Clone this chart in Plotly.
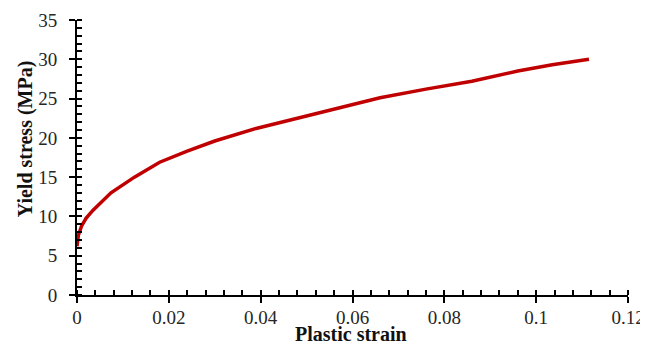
import plotly.graph_objects as go

plastic_strain = [0, 0.0003, 0.001, 0.002, 0.0035, 0.0074, 0.0125, 0.018, 0.024,
                  0.030, 0.039, 0.048, 0.057, 0.066, 0.076, 0.086, 0.096, 0.1035, 0.1115]
yield_stress = [6.2, 7.6, 8.8, 9.8, 10.8, 13.0, 15.0, 16.9, 18.3,
                19.6, 21.2, 22.5, 23.8, 25.1, 26.2, 27.2, 28.5, 29.3, 30.0]

x_title = "Plastic strain"
y_title = "Yield stress (MPa)"
x_range = [0, 0.12]
y_range = [0, 35]

FONT = "Liberation Serif, Times New Roman, serif"

fig = go.Figure()
fig.add_trace(go.Scatter(x=plastic_strain, y=yield_stress, mode="lines",
                         line=dict(color="#C00000", width=3.5), showlegend=False,
                         hoverinfo="skip"))
# invisible trace carrying the overlay axes (inside half of the major ticks)
fig.add_trace(go.Scatter(x=plastic_strain, y=yield_stress, mode="lines",
                         line=dict(width=0), opacity=0, showlegend=False,
                         hoverinfo="skip", xaxis="x2", yaxis="y2"))

axis_common = dict(showgrid=False, zeroline=False, showline=True, linecolor="black",
                   linewidth=2, ticks="outside", ticklen=6, tickwidth=2, automargin=False,
                   tickcolor="black", tickfont=dict(family=FONT, size=19, color="#262626"))

fig.update_layout(
    width=640, height=339,
    margin=dict(l=69, r=20, t=12, b=52),
    paper_bgcolor="white", plot_bgcolor="white",
    font=dict(family=FONT),
    xaxis=dict(range=x_range, dtick=0.02, tick0=0, ticklabelstandoff=-2,
               minor=dict(dtick=0.004, ticks="inside", ticklen=5, tickwidth=2, tickcolor="black"),
               **axis_common),
    yaxis=dict(range=y_range, dtick=5, tick0=0, ticklabelstandoff=8,
               minor=dict(dtick=1, ticks="inside", ticklen=5, tickwidth=2, tickcolor="black"),
               **axis_common),
    xaxis2=dict(range=x_range, dtick=0.02, tick0=0, overlaying="x", anchor="y2",
                showgrid=False, zeroline=False, showline=False, showticklabels=False,
                ticks="inside", ticklen=5, tickwidth=2, tickcolor="black", automargin=False),
    yaxis2=dict(range=y_range, dtick=5, tick0=0, overlaying="y", anchor="x2",
                showgrid=False, zeroline=False, showline=False, showticklabels=False,
                ticks="inside", ticklen=5, tickwidth=2, tickcolor="black", automargin=False),
    annotations=[
        dict(text="<b>" + x_title + "</b>", xref="paper", yref="paper",
             x=0.497, y=-0.14, xanchor="center", yanchor="middle", showarrow=False,
             font=dict(family=FONT, size=20, color="#111")),
        dict(text="<b>" + y_title + "</b>", xref="paper", yref="paper",
             x=-0.094, y=0.567, xanchor="center", yanchor="middle", showarrow=False,
             textangle=-90, font=dict(family=FONT, size=20, color="#111")),
    ],
)

fig.write_html("out.html")
